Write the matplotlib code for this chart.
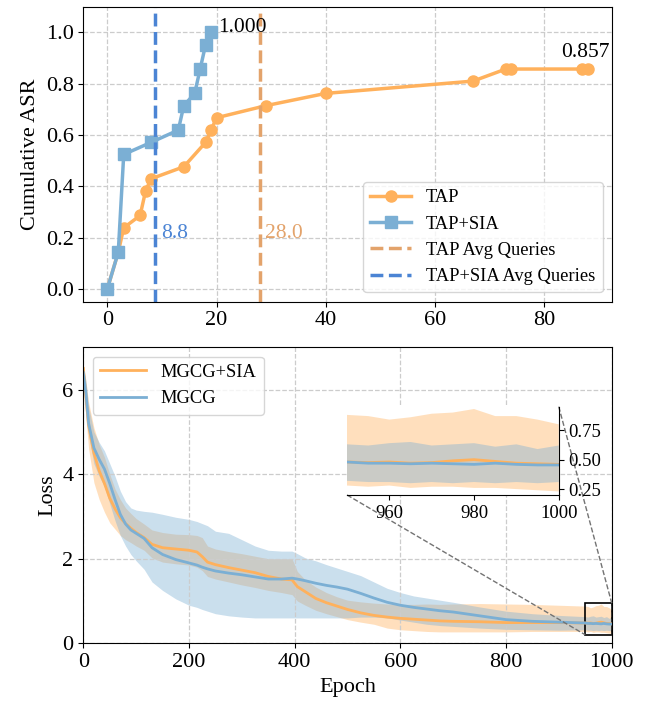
import matplotlib
matplotlib.use('Agg')
import matplotlib.pyplot as plt
import numpy as np
from mpl_toolkits.axes_grid1.inset_locator import mark_inset

plt.rcParams['font.family'] = ['Liberation Serif', 'DejaVu Serif']
plt.rcParams['font.size'] = 16

# === Top panel data: cumulative ASR vs queries ===
tap_q = [0, 2, 3, 6, 7, 8, 14, 18, 19, 20, 29, 40, 67, 73, 74, 87, 88]
tap_asr = [0.000, 0.143, 0.238, 0.286, 0.381, 0.429, 0.476, 0.571, 0.619,
           0.667, 0.714, 0.762, 0.810, 0.857, 0.857, 0.857, 0.857]
sia_q = [0, 2, 3, 8, 13, 14, 16, 17, 18, 19]
sia_asr = [0.000, 0.143, 0.524, 0.571, 0.619, 0.714, 0.762, 0.857, 0.952, 1.000]
tap_avg = 28.0
sia_avg = 8.8

# === Bottom panel data: loss curves with bands ===
epochs = [0, 5, 10, 20, 30, 40, 50, 60, 70, 80, 90, 100, 115, 130, 150, 175, 200,
          215, 225, 235, 250, 275, 300, 325, 350, 375, 395, 405, 420, 440, 460, 480,
          500, 525, 550, 575, 600, 625, 650, 675, 700, 750, 800, 850, 900,
          950, 955, 960, 965, 970, 975, 980, 985, 990, 995, 1000]

sia_mean = [6.5, 5.8, 5.15, 4.5, 4.08, 3.78, 3.43, 3.18, 2.97, 2.83, 2.72, 2.62, 2.50,
            2.34, 2.26, 2.23, 2.20, 2.16, 2.05, 1.92, 1.86, 1.79, 1.73, 1.67, 1.58,
            1.52, 1.50, 1.34, 1.22, 1.06, 0.96, 0.88, 0.80, 0.72, 0.66, 0.62, 0.59,
            0.57, 0.55, 0.53, 0.52, 0.51, 0.49, 0.49, 0.49,
            0.48, 0.475, 0.48, 0.47, 0.475, 0.49, 0.50, 0.485, 0.47, 0.465, 0.46]
sia_low = [6.3, 5.3, 4.6, 3.8, 3.4, 3.1, 2.85, 2.7, 2.55, 2.45, 2.38, 2.3, 2.2, 2.02,
           1.92, 1.88, 1.85, 1.8, 1.72, 1.58, 1.52, 1.45, 1.38, 1.32, 1.25, 1.2, 1.15,
           1.0, 0.9, 0.78, 0.7, 0.63, 0.56, 0.5, 0.45, 0.36, 0.32, 0.3, 0.28, 0.27,
           0.27, 0.27, 0.27, 0.28, 0.28,
           0.28, 0.27, 0.28, 0.26, 0.27, 0.27, 0.26, 0.26, 0.25, 0.24, 0.23]
sia_high = [6.6, 6.2, 5.7, 5.1, 4.7, 4.4, 4.0, 3.65, 3.4, 3.2, 3.07, 2.95, 2.82, 2.68,
            2.62, 2.58, 2.57, 2.55, 2.5, 2.3, 2.23, 2.17, 2.12, 2.06, 2.0, 2.0, 2.0,
            1.7, 1.5, 1.33, 1.2, 1.1, 1.02, 0.98, 0.95, 0.93, 0.92, 0.92, 0.93, 0.92,
            0.93, 0.94, 0.93, 0.92, 0.9,
            0.88, 0.87, 0.84, 0.86, 0.89, 0.90, 0.93, 0.87, 0.87, 0.84, 0.80]

base_mean = [6.4, 5.9, 5.2, 4.62, 4.35, 4.12, 3.78, 3.40, 3.05, 2.82, 2.68, 2.60, 2.48,
             2.26, 2.10, 1.98, 1.90, 1.85, 1.80, 1.76, 1.71, 1.66, 1.62, 1.57, 1.52,
             1.52, 1.54, 1.52, 1.48, 1.42, 1.37, 1.33, 1.28, 1.18, 1.07, 0.97, 0.90,
             0.85, 0.81, 0.77, 0.74, 0.65, 0.56, 0.52, 0.50,
             0.48, 0.47, 0.47, 0.465, 0.47, 0.465, 0.46, 0.47, 0.46, 0.455, 0.455]
base_low = [6.3, 5.6, 4.9, 4.25, 3.95, 3.7, 3.3, 2.9, 2.55, 2.3, 2.1, 1.95, 1.75, 1.45,
            1.25, 1.05, 0.9, 0.85, 0.8, 0.76, 0.7, 0.65, 0.62, 0.6, 0.6, 0.6, 0.6,
            0.6, 0.6, 0.6, 0.6, 0.6, 0.6, 0.62, 0.62, 0.6, 0.55, 0.5, 0.45, 0.42, 0.4,
            0.36, 0.33, 0.32, 0.31,
            0.32, 0.31, 0.31, 0.30, 0.31, 0.30, 0.31, 0.30, 0.31, 0.30, 0.31]
base_high = [6.55, 6.2, 5.6, 5.0, 4.75, 4.55, 4.25, 3.95, 3.6, 3.35, 3.2, 3.15, 3.12,
             3.1, 3.05, 2.98, 2.93, 2.88, 2.83, 2.78, 2.65, 2.6, 2.45, 2.3, 2.2, 2.18,
             2.18, 2.12, 2.02, 1.95, 1.86, 1.78, 1.7, 1.6, 1.45, 1.3, 1.2, 1.12, 1.07,
             1.02, 0.97, 0.86, 0.76, 0.7, 0.66,
             0.63, 0.62, 0.64, 0.65, 0.62, 0.63, 0.64, 0.61, 0.63, 0.59, 0.62]

c_tap = '#FFB15C'
c_sia = '#7BAFD4'
c_tap_avg = '#E3A36B'
c_sia_avg = '#4B84D4'
grid_kw = dict(linestyle='--', color='#cccccc', linewidth=0.9)

fig = plt.figure(figsize=(6.49, 7.06), dpi=100)
ax1 = fig.add_axes([0.1284, 0.5727, 0.8142, 0.4178])
ax2 = fig.add_axes([0.1284, 0.0888, 0.8142, 0.4193])

# ==== Plot 1: cumulative ASR ====
ax1.plot(tap_q, tap_asr, '-o', color=c_tap, lw=2.5, ms=8, label='TAP')
ax1.plot(sia_q, sia_asr, '-s', color=c_sia, lw=2.5, ms=8, label='TAP+SIA')
ax1.axvline(tap_avg, color=c_tap_avg, ls='--', lw=2.5, label='TAP Avg Queries')
ax1.axvline(sia_avg, color=c_sia_avg, ls='--', lw=2.5, label='TAP+SIA Avg Queries')
ax1.text(sia_avg + 1.1, 0.197, f'{sia_avg:.1f}', color=c_sia_avg, fontsize=15.5, va='baseline')
ax1.text(tap_avg + 0.9, 0.197, f'{tap_avg:.1f}', color=c_tap_avg, fontsize=15.5, va='baseline')
ax1.annotate(f'{sia_asr[-1]:.3f}', (sia_q[-1], sia_asr[-1]), xytext=(5, 0),
             textcoords='offset points', fontsize=15.5, va='baseline', ha='left')
ax1.annotate(f'{tap_asr[-1]:.3f}', (tap_q[-1] - 0.4, tap_asr[-1]), xytext=(0, 9),
             textcoords='offset points', fontsize=15.5, va='baseline', ha='center')
ax1.set_ylabel('Cumulative ASR', fontsize=16)
ax1.set_xlim(-4.4, 92.4)
ax1.set_ylim(-0.05, 1.1)
ax1.set_xticks([0, 20, 40, 60, 80])
ax1.set_yticks([0.0, 0.2, 0.4, 0.6, 0.8, 1.0])
ax1.grid(True, **grid_kw)
ax1.legend(loc='lower right', fontsize=13.3, handlelength=2.2)

# ==== Plot 2: loss curves ====
def draw_loss(ax, lw=2):
    ax.fill_between(epochs, sia_low, sia_high, color=c_tap, alpha=0.4, lw=0)
    ax.fill_between(epochs, base_low, base_high, color=c_sia, alpha=0.4, lw=0)
    ax.plot(epochs, sia_mean, color=c_tap, lw=lw, label='MGCG+SIA')
    ax.plot(epochs, base_mean, color=c_sia, lw=lw, label='MGCG')

draw_loss(ax2)
ax2.set_xlim(0, 1000)
ax2.set_ylim(0, 7)
ax2.set_xticks([0, 200, 400, 600, 800, 1000])
ax2.set_yticks([0, 2, 4, 6])
ax2.set_xlabel('Epoch', fontsize=16)
ax2.set_ylabel('Loss', fontsize=16)
ax2.grid(True, **grid_kw)
ax2.legend(loc='upper left', fontsize=13.3, handlelength=2.5)

# inset zoom on the last epochs
axins = fig.add_axes([0.5347, 0.2989, 0.3262, 0.1251])
draw_loss(axins)
axins.set_xlim(950, 1000)
axins.set_ylim(0.2, 0.95)
axins.set_xticks([960, 980, 1000])
axins.set_yticks([0.25, 0.50, 0.75])
axins.yaxis.tick_right()
axins.spines['top'].set_visible(False)
axins.spines['left'].set_visible(False)
axins.tick_params(labelsize=13.5)
axins.yaxis.set_major_formatter(matplotlib.ticker.FormatStrFormatter('%.2f'))

pp, p1, p2 = mark_inset(ax2, axins, loc1=1, loc2=3, fc='none', ec='0.45', ls='--', lw=1)
pp.set_edgecolor('black')
pp.set_linestyle('-')
pp.set_linewidth(1.2)

fig.savefig('out.png', dpi=100)
